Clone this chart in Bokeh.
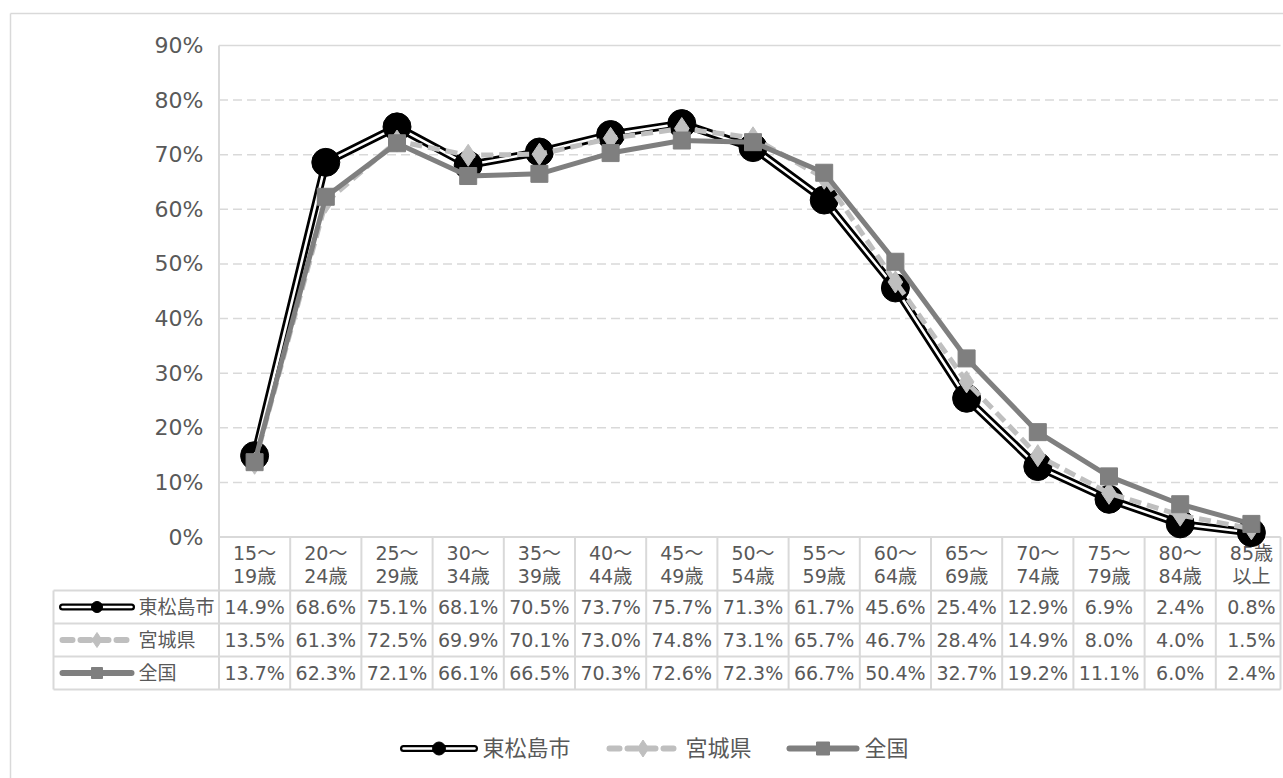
from bokeh.plotting import figure
from bokeh.models import Range1d
from bokeh.core.properties import value
from bokeh.embed import file_html
from bokeh.resources import INLINE

# ---------------- data ----------------
categories = ["15～\n19歳", "20～\n24歳", "25～\n29歳", "30～\n34歳", "35～\n39歳",
              "40～\n44歳", "45～\n49歳", "50～\n54歳", "55～\n59歳", "60～\n64歳",
              "65～\n69歳", "70～\n74歳", "75～\n79歳", "80～\n84歳", "85歳\n以上"]
series_names = ["東松島市", "宮城県", "全国"]
higashimatsushima = [14.9, 68.6, 75.1, 68.1, 70.5, 73.7, 75.7, 71.3, 61.7, 45.6, 25.4, 12.9, 6.9, 2.4, 0.8]
miyagi = [13.5, 61.3, 72.5, 69.9, 70.1, 73.0, 74.8, 73.1, 65.7, 46.7, 28.4, 14.9, 8.0, 4.0, 1.5]
zenkoku = [13.7, 62.3, 72.1, 66.1, 66.5, 70.3, 72.6, 72.3, 66.7, 50.4, 32.7, 19.2, 11.1, 6.0, 2.4]
y_ticks = [0, 10, 20, 30, 40, 50, 60, 70, 80, 90]
y_tick_labels = ["0%", "10%", "20%", "30%", "40%", "50%", "60%", "70%", "80%", "90%"]

# ---------------- layout (screen px) ----------------
WIDTH, HEIGHT = 1283, 778
PLOT_LEFT = 218.5      # px of left edge of the plot area
COL_W = 71.2           # px per category
ZERO_PX = 536.5        # px of 0%
TOP_PX = 45.0          # px of 90%
RIGHT_PX = 1280.0      # clipped right edge of chart/table
S = (ZERO_PX - TOP_PX) / 90.0

x_start = -0.5 - PLOT_LEFT / COL_W
x_end = x_start + WIDTH / COL_W
y_end = ZERO_PX / S
y_start = -(HEIGHT - ZERO_PX) / S


def X(px):
    return x_start + px / COL_W


def Y(px):
    return y_end - px / S


FONT = value("DejaVu Sans, Noto Sans CJK JP")
TXT = "#595959"
GRID = "#D9D9D9"
C_MIYAGI = "#BFBFBF"
C_ZEN = "#7F7F7F"

p = figure(width=WIDTH, height=HEIGHT, output_backend="svg", toolbar_location=None,
           x_range=Range1d(x_start, x_end), y_range=Range1d(y_start, y_end),
           min_border=0, outline_line_color=None, background_fill_color="white",
           border_fill_color="white")
p.axis.visible = False
p.grid.visible = False

n = len(categories)
xs = list(range(n))
x_left = -0.5
x_right = X(RIGHT_PX)

# outer chart border
p.segment(x0=[X(10), X(10)], y0=[Y(13), Y(13)], x1=[X(WIDTH + 5), X(10)], y1=[Y(13), Y(HEIGHT + 5)],
          line_color=GRID, line_width=1.5)

# gridlines
grid_vals = [v for v in y_ticks if v not in (0, y_ticks[-1])]
p.segment(x0=[x_left] * len(grid_vals), y0=grid_vals, x1=[x_right] * len(grid_vals), y1=grid_vals,
          line_color=GRID, line_width=1.5, line_dash="9 5")
p.segment(x0=[x_left], y0=[y_ticks[-1]], x1=[x_right], y1=[y_ticks[-1]], line_color=GRID, line_width=1.5)

# y tick labels
p.text(x=[X(203)] * len(y_ticks), y=y_ticks, text=y_tick_labels, text_align="right",
       text_baseline="middle", text_font=FONT, text_font_size="22px", text_color=TXT)

# ---------------- table ----------------
HDR_BOT = 590.0
ROW_H = 33.0
row_tops = [HDR_BOT + i * ROW_H for i in range(len(series_names))]
TABLE_BOT = HDR_BOT + ROW_H * len(series_names)
LEG_COL_LEFT = 53.0

# horizontal table lines
hx0 = [x_left, X(LEG_COL_LEFT), X(LEG_COL_LEFT), X(LEG_COL_LEFT), X(LEG_COL_LEFT)]
hy = [0, Y(HDR_BOT), Y(HDR_BOT + ROW_H), Y(HDR_BOT + 2 * ROW_H), Y(TABLE_BOT)]
p.segment(x0=hx0, y0=hy, x1=[x_right] * len(hy), y1=hy, line_color=GRID, line_width=2)
# vertical lines
vx = [k - 0.5 for k in range(n)] + [x_right]
p.segment(x0=vx, y0=[y_ticks[-1]] * 1 + [0] * (len(vx) - 1), x1=vx, y1=[Y(TABLE_BOT)] * len(vx),
          line_color=GRID, line_width=2)
p.segment(x0=[X(LEG_COL_LEFT)], y0=[Y(HDR_BOT)], x1=[X(LEG_COL_LEFT)], y1=[Y(TABLE_BOT)],
          line_color=GRID, line_width=2)

# header labels (two lines)
top_lines = [c.split("\n")[0] for c in categories]
bot_lines = [c.split("\n")[1] for c in categories]
p.text(x=xs, y=[Y(552)] * n, text=top_lines, text_align="center", text_baseline="middle",
       text_font=FONT, text_font_size="19px", text_color=TXT)
p.text(x=xs, y=[Y(575)] * n, text=bot_lines, text_align="center", text_baseline="middle",
       text_font=FONT, text_font_size="19px", text_color=TXT)

all_series = [higashimatsushima, miyagi, zenkoku]
for i, vals in enumerate(all_series):
    yc = Y(row_tops[i] + ROW_H / 2)
    p.text(x=xs, y=[yc] * n, text=["%.1f%%" % v for v in vals], text_align="center",
           text_baseline="middle", text_font=FONT, text_font_size="19px", text_color=TXT)
    p.text(x=[X(138)], y=[yc], text=[series_names[i]], text_align="left", text_baseline="middle",
           text_font=FONT, text_font_size="19px", text_color=TXT)


def icon(x0px, x1px, ypx, kind, msize):
    xa, xb, xm = X(x0px), X(x1px), X((x0px + x1px) / 2)
    yv = Y(ypx)
    if kind == 0:
        p.line([xa, xb], [yv, yv], line_color="black", line_width=7, line_cap="round")
        p.line([xa, xb], [yv, yv], line_color="white", line_width=2.5, line_cap="round")
        p.scatter([xm], [yv], marker="circle", size=msize, fill_color="black", line_color="black")
    elif kind == 1:
        p.line([xa, xb], [yv, yv], line_color=C_MIYAGI, line_width=6, line_dash="10 8", line_cap="round")
        p.scatter([xm], [yv], marker="diamond", size=msize + 4, fill_color=C_MIYAGI, line_color=C_MIYAGI)
    else:
        p.line([xa, xb], [yv, yv], line_color=C_ZEN, line_width=6, line_cap="round")
        p.scatter([xm], [yv], marker="square", size=msize, fill_color=C_ZEN, line_color=C_ZEN)


for i in range(len(series_names)):
    icon(62, 131, row_tops[i] + ROW_H / 2, i, 11)

# ---------------- lines ----------------
p.line(xs, higashimatsushima, line_color="black", line_width=8, line_join="round")
p.line(xs, higashimatsushima, line_color="white", line_width=2.5, line_join="round")
p.scatter(xs, higashimatsushima, marker="circle", size=28, fill_color="black", line_color="black")

p.line(xs, miyagi, line_color=C_MIYAGI, line_width=5, line_dash="12 6", line_join="round")
p.scatter(xs, miyagi, marker="diamond", size=22, fill_color=C_MIYAGI, line_color=C_MIYAGI)

p.line(xs, zenkoku, line_color=C_ZEN, line_width=5, line_join="round")
p.scatter(xs, zenkoku, marker="square", size=17, fill_color=C_ZEN, line_color=C_ZEN)

# ---------------- legend ----------------
LEG_Y = 748
leg = [(403, 474, 482), (609, 676, 685), (789, 856, 864)]
for i, (a, b, t) in enumerate(leg):
    icon(a, b, LEG_Y, i, 13)
    p.text(x=[X(t)], y=[Y(LEG_Y)], text=[series_names[i]], text_align="left", text_baseline="middle",
           text_font=FONT, text_font_size="22px", text_color=TXT)

open("out.html", "w").write(file_html(p, INLINE))
